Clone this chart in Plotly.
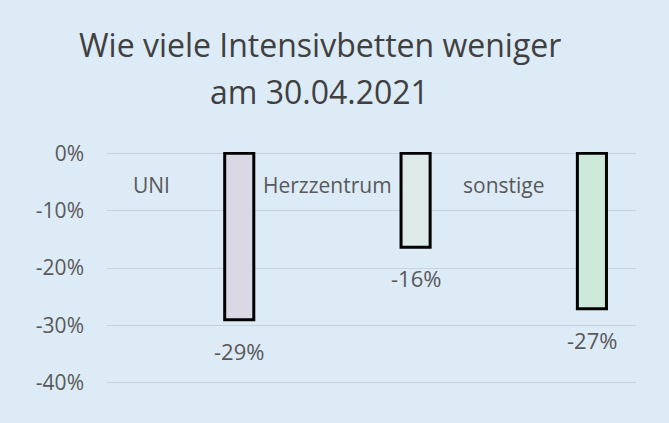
import plotly.graph_objects as go

# Rückgang Intensivbetten je Klinikgruppe
kategorien = ["UNI", "Herzzentrum", "sonstige"]
rueckgang = [-0.29, -0.164, -0.271]
farben = ["#DAD8E4", "#DEEAE8", "#CDE9D9"]
yticks = [0, -0.1, -0.2, -0.3, -0.4]
titelzeilen = ["Wie viele Intensivbetten weniger", "am 30.04.2021"]

grau = "#595959"
schrift = "Open Sans"

fig = go.Figure()
fig.add_trace(go.Bar(x=kategorien, y=rueckgang, width=0.165, offset=0.1675,
                     marker=dict(color=farben, line=dict(color="black", width=3)),
                     hoverinfo="skip"))

# Titel in zwei Zeilen (Excel-Zeilenabstand ist größer als bei plotly)
for zeile, shift in zip(titelzeilen, [108, 61]):
    fig.add_annotation(xref="paper", yref="paper", x=0.5, y=1, xshift=-52, yshift=shift,
                       yanchor="middle", text=zeile, showarrow=False,
                       font=dict(family=schrift, size=32, color="#404040"))

# Kategorie-Beschriftungen links neben den Balken
for k in kategorien:
    fig.add_annotation(x=k, y=-0.055, text=k, showarrow=False, xshift=-44,
                       font=dict(family=schrift, size=21, color=grau))

# Werte unter den Balken
for k, v in zip(kategorien, rueckgang):
    fig.add_annotation(x=k, y=v, text=f"{round(v * 100)}%", showarrow=False,
                       xshift=44, yshift=-31,
                       font=dict(family=schrift, size=22, color=grau))

fig.update_layout(
    width=669, height=423,
    paper_bgcolor="#DDEBF7", plot_bgcolor="#DDEBF7",
    margin=dict(l=107, r=33, t=152, b=39),
    showlegend=False,
    xaxis=dict(showticklabels=False, showgrid=False, zeroline=False,
               range=[-0.5, 2.5]),
    yaxis=dict(range=[-0.402, 0.002], tickvals=yticks,
               ticktext=[f"{round(t * 100)}%" for t in yticks],
               showgrid=True, gridcolor="#C6D2DF", gridwidth=1.3, zeroline=False,
               ticklabelstandoff=22,
               tickfont=dict(family=schrift, size=21, color=grau)),
)

fig.write_html("out.html", config={"displayModeBar": False},
               post_script="document.body.style.margin='0';")
